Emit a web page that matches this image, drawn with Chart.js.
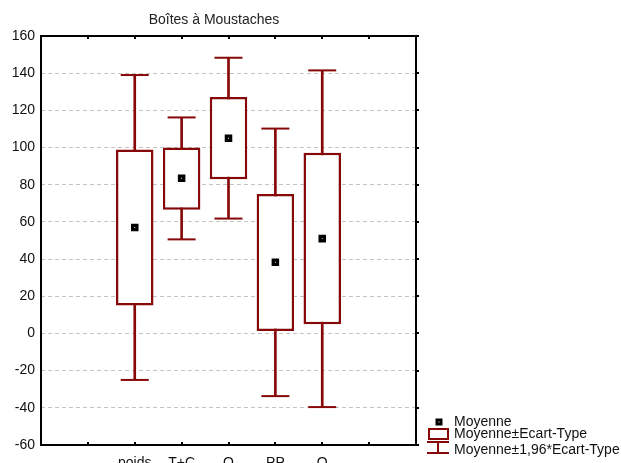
<!DOCTYPE html>
<html>
<head>
<meta charset="utf-8">
<title>Boîtes à Moustaches</title>
<script src="https://cdn.jsdelivr.net/npm/chart.js@4.4.1/dist/chart.umd.min.js"></script>
<style>
html,body{margin:0;padding:0;background:#fff;}
#wrap{width:621px;height:463px;}
</style>
</head>
<body>
<div id="wrap"><canvas id="boxChart" width="621" height="463"></canvas></div>
<script>

/* =========================================================
DATA
========================================================= */

const categories = ['poids','T+C','Q','PP','O'];

// axis slots : two empty ones on each side
const axisLabels = ['','','poids','T+C','Q','PP','O','',''];

const means       = [57, 83.5, 105, 38.3, 51];
const boxLow      = [15, 66.6, 83, 1.3, 4.9];
const boxHigh     = [99, 100, 127.2, 75, 97.2];
const whiskerLow  = [-25, 50.6, 61.8, -33.7, -39.6];
const whiskerHigh = [139, 116.2, 148.3, 110.2, 141.5];

const yTicks = [-60,-40,-20,0,20,40,60,80,100,120,140,160];

const legendLabels = [
'Moyenne',
'Moyenne±Ecart-Type',
'Moyenne±1,96*Ecart-Type'
];

const chartTitle = 'Boîtes à Moustaches';

const RED = '#870808';
const FONT = "'Liberation Sans', Arial, sans-serif";

/* =========================================================
HELPERS
========================================================= */

function pairs(lo, hi){
return categories.map((c,i)=>({x:c, y:[lo[i], hi[i]]}));
}

function points(vals){
return categories.map((c,i)=>({x:c, y:vals[i]}));
}

function drawMean(ctx, x, y){
ctx.save();
ctx.fillStyle = '#000';
ctx.fillRect(x-3.5, y-3.5, 7, 7);
ctx.fillStyle = '#fff';
ctx.fillRect(x-0.5, y-0.5, 1, 1);
ctx.restore();
}

/* =========================================================
PLUGINS : title, frame, legend
========================================================= */

const titlePlugin = {
id:'statTitle',
afterDraw(chart){
const ctx = chart.ctx;
const a = chart.chartArea;
ctx.save();
ctx.font = '14px ' + FONT;
ctx.fillStyle = '#222';
ctx.textAlign = 'center';
ctx.textBaseline = 'middle';
ctx.fillText(chartTitle, a.left + 173, 20);
ctx.restore();
}
};

const framePlugin = {
id:'statFrame',
afterDraw(chart){
const ctx = chart.ctx;
const a = chart.chartArea;
const xs = chart.scales.x;
const ys = chart.scales.y;
ctx.save();
ctx.strokeStyle = '#000';
ctx.lineWidth = 2;
ctx.strokeRect(a.left, a.top, a.right-a.left, a.bottom-a.top);

ctx.beginPath();
xs.ticks.forEach((t,i)=>{
const px = Math.round(xs.getPixelForTick(i));
ctx.moveTo(px, a.bottom); ctx.lineTo(px, a.bottom-3);
ctx.moveTo(px, a.top); ctx.lineTo(px, a.top+3);
});
ys.ticks.forEach((t,i)=>{
const py = Math.round(ys.getPixelForTick(i));
ctx.moveTo(a.right, py); ctx.lineTo(a.right+3, py);
});
ctx.stroke();
ctx.restore();
}
};

const legendPlugin = {
id:'statLegend',
afterDraw(chart){
const ctx = chart.ctx;
const a = chart.chartArea;
const x0 = a.right + 11;
const tx = a.right + 38;
const rows = [a.bottom-23, a.bottom-11, a.bottom+5];

ctx.save();

// mean
drawMean(ctx, x0+12, rows[0]);

// box
ctx.strokeStyle = RED;
ctx.lineWidth = 2;
ctx.strokeRect(x0+2, a.bottom-16, 19, 10);

// whisker
ctx.beginPath();
ctx.moveTo(x0, a.bottom-3); ctx.lineTo(x0+22, a.bottom-3);
ctx.moveTo(x0+11, a.bottom-3); ctx.lineTo(x0+11, a.bottom+8);
ctx.moveTo(x0, a.bottom+8); ctx.lineTo(x0+22, a.bottom+8);
ctx.stroke();

ctx.font = '14px ' + FONT;
ctx.fillStyle = '#111';
ctx.textAlign = 'left';
ctx.textBaseline = 'middle';
legendLabels.forEach((l,i)=>{
ctx.fillText(l, tx, rows[i]);
});

ctx.restore();
}
};

/* =========================================================
CHART
========================================================= */

new Chart(document.getElementById('boxChart'), {

type:'bar',

data:{

labels:axisLabels,

datasets:[

{
label:'whisker',
data:pairs(whiskerLow, whiskerHigh),
backgroundColor:RED,
borderWidth:0,
barThickness:2,
grouped:false,
order:4
},

{
label:legendLabels[1],
data:pairs(boxLow, boxHigh),
backgroundColor:'#fff',
borderColor:RED,
borderWidth:2.5,
borderSkipped:false,
barPercentage:0.8,
categoryPercentage:1,
grouped:false,
order:3
},

{
type:'line',
label:'capHigh',
data:points(whiskerHigh),
showLine:false,
pointStyle:'line',
pointRadius:14,
pointHoverRadius:14,
pointBorderColor:RED,
pointBorderWidth:2,
order:2
},

{
type:'line',
label:'capLow',
data:points(whiskerLow),
showLine:false,
pointStyle:'line',
pointRadius:14,
pointHoverRadius:14,
pointBorderColor:RED,
pointBorderWidth:2,
order:2
},

{
type:'line',
label:legendLabels[0],
data:points(means),
showLine:false,
pointStyle:'rect',
pointRadius:3,
pointHoverRadius:3,
pointBackgroundColor:'#fff',
pointBorderColor:'#000',
pointBorderWidth:3.3,
order:1
}

]

},

options:{

responsive:false,
animation:false,
events:[],

layout:{
padding:{top:36, right:205, bottom:0, left:0}
},

plugins:{
legend:{display:false},
title:{display:false},
tooltip:{enabled:false}
},

scales:{

x:{
type:'category',
offset:false,
grid:{display:false, drawTicks:false},
border:{display:false},
ticks:{
autoSkip:false,
maxRotation:0,
padding:10,
color:'#111',
font:{family:FONT, size:14}
},
afterFit(s){ s.height = 18; }
},

y:{
min:yTicks[0],
max:yTicks[yTicks.length-1],
grid:{
color:'#c4c4c4',
lineWidth:1,
drawTicks:false
},
border:{display:false, dash:[4,3]},
ticks:{
stepSize:yTicks[1]-yTicks[0],
padding:6,
color:'#111',
font:{family:FONT, size:14}
},
afterFit(s){ s.width = 41; }
}

}

},

plugins:[titlePlugin, framePlugin, legendPlugin]

});

/* END */
</script>
</body>
</html>
